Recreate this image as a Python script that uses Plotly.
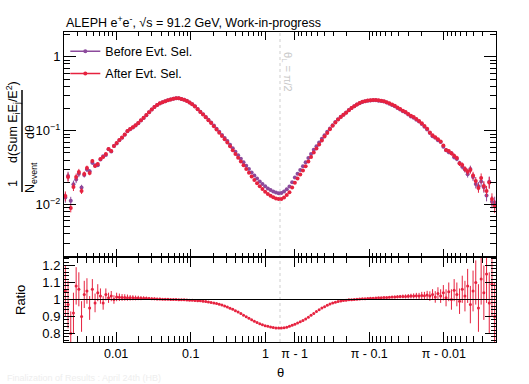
import numpy as np
import plotly.graph_objects as go

# ---------------- data ----------------
N_BINS = 160
THETA_MIN = 0.002

after = [
    0.01309, 0.02365, 0.00901, 0.01732, 0.02365, 0.02764, 0.01529, 0.02597, 0.03131, 0.02679,
    0.03896, 0.03332, 0.03546, 0.04145, 0.04410, 0.04843, 0.05660, 0.05318, 0.06213, 0.06823,
    0.07492, 0.08096, 0.08892, 0.09915, 0.1055, 0.1113, 0.1188, 0.1273, 0.1380, 0.1501,
    0.1633, 0.1781, 0.1938, 0.2095, 0.2229, 0.2343, 0.2425, 0.2510, 0.2589, 0.2646,
    0.2704, 0.2738, 0.2738, 0.2688, 0.2621, 0.2526, 0.2403, 0.2272, 0.2128, 0.1950,
    0.1792, 0.1653, 0.1515, 0.1389, 0.1273, 0.1148, 0.1036, 0.09376, 0.08484, 0.07656,
    0.06929, 0.06138, 0.05452, 0.04843, 0.04302, 0.03823, 0.03406, 0.03025, 0.02688, 0.02395,
    0.02154, 0.01950, 0.01765, 0.01618, 0.01491, 0.01392, 0.01320, 0.01257, 0.01211, 0.01185,
    0.01191, 0.01249, 0.01350, 0.01473, 0.01705, 0.01980, 0.02250, 0.02549, 0.02896, 0.03301,
    0.03823, 0.04396, 0.05058, 0.05731, 0.06510, 0.07376, 0.08326, 0.09317, 0.1042, 0.1162,
    0.1288, 0.1414, 0.1534, 0.1638, 0.1754, 0.1896, 0.2031, 0.2147, 0.2258, 0.2365,
    0.2455, 0.2510, 0.2557, 0.2589, 0.2604, 0.2596, 0.2573, 0.2549, 0.2510, 0.2433,
    0.2350, 0.2264, 0.2168, 0.2062, 0.1968, 0.1866, 0.1792, 0.1684, 0.1592, 0.1534,
    0.1441, 0.1354, 0.1260, 0.1159, 0.1062, 0.09462, 0.08644, 0.08147, 0.07656, 0.07149,
    0.06310, 0.05486, 0.05318, 0.04933, 0.04594, 0.04276, 0.03603, 0.03438, 0.03034, 0.02781,
    0.02941, 0.02479, 0.02088, 0.01679, 0.02293, 0.01787, 0.01529, 0.01993, 0.01192, 0.00958,
]

ratio = [
    1.05, 0.97, 0.80, 0.92, 1.08, 1.06, 0.90, 1.03, 1.05, 0.95,
    1.06, 0.98, 1.04, 1.02, 0.98, 1.03, 1.01, 1.02, 1.00, 1.015,
    1.013, 1.012, 1.012, 1.011, 1.010, 1.010, 1.009, 1.009, 1.008, 1.008,
    1.007, 1.006, 1.005, 1.004, 1.003, 1.003, 1.002, 1.001, 1.001, 1.000,
    1.000, 1.000, 0.999, 0.999, 0.998, 0.997, 0.996, 0.995, 0.994, 0.993,
    0.992, 0.990, 0.988, 0.986, 0.983, 0.980, 0.976, 0.972, 0.967, 0.962,
    0.956, 0.949, 0.942, 0.934, 0.926, 0.917, 0.908, 0.899, 0.890, 0.881,
    0.872, 0.864, 0.857, 0.851, 0.846, 0.842, 0.838, 0.835, 0.833, 0.832,
    0.832, 0.834, 0.837, 0.842, 0.848, 0.855, 0.862, 0.869, 0.877, 0.886,
    0.896, 0.907, 0.918, 0.929, 0.940, 0.950, 0.958, 0.966, 0.973, 0.979,
    0.984, 0.988, 0.991, 0.994, 0.996, 0.998, 0.999, 1.000, 1.002, 1.003,
    1.004, 1.005, 1.006, 1.007, 1.008, 1.009, 1.010, 1.011, 1.012, 1.012,
    1.013, 1.014, 1.015, 1.016, 1.017, 1.018, 1.018, 1.019, 1.020, 1.021,
    1.022, 1.020, 1.024, 1.022, 1.026, 1.020, 1.030, 1.015, 1.035, 1.020,
    1.040, 1.010, 1.045, 1.000, 1.055, 1.030, 0.990, 1.060, 1.020, 1.080,
    0.970, 1.050, 1.100, 0.950, 1.120, 1.040, 1.150, 0.980, 1.090, 0.900,
]

ratio_err = [
    0.15, 0.14, 0.13, 0.12, 0.11, 0.10, 0.09, 0.08, 0.075, 0.07,
    0.06, 0.055, 0.05, 0.045, 0.04, 0.035, 0.03, 0.03, 0.025, 0.025,
    0.022, 0.020, 0.019, 0.018, 0.016, 0.015, 0.014, 0.013, 0.012, 0.011,
    0.010, 0.009, 0.008, 0.008, 0.007, 0.007, 0.006, 0.006, 0.005, 0.005,
    0.004, 0.004, 0.004, 0.004, 0.004, 0.004, 0.004, 0.004, 0.004, 0.004,
    0.004, 0.004, 0.004, 0.004, 0.004, 0.004, 0.004, 0.004, 0.004, 0.004,
    0.004, 0.004, 0.004, 0.004, 0.004, 0.004, 0.004, 0.004, 0.004, 0.004,
    0.004, 0.004, 0.004, 0.004, 0.004, 0.004, 0.004, 0.004, 0.004, 0.004,
    0.004, 0.004, 0.004, 0.004, 0.004, 0.004, 0.004, 0.004, 0.004, 0.004,
    0.004, 0.004, 0.004, 0.004, 0.004, 0.004, 0.004, 0.004, 0.004, 0.004,
    0.004, 0.004, 0.004, 0.004, 0.004, 0.004, 0.004, 0.004, 0.004, 0.004,
    0.004, 0.004, 0.004, 0.004, 0.004, 0.004, 0.004, 0.004, 0.004, 0.004,
    0.006, 0.007, 0.008, 0.009, 0.010, 0.011, 0.012, 0.013, 0.014, 0.015,
    0.017, 0.019, 0.021, 0.023, 0.025, 0.028, 0.031, 0.034, 0.037, 0.040,
    0.045, 0.05, 0.055, 0.06, 0.065, 0.07, 0.075, 0.08, 0.09, 0.10,
    0.11, 0.12, 0.13, 0.14, 0.15, 0.16, 0.17, 0.18, 0.19, 0.20,
]

x_tick_theta = [0.01, 0.1, 1.0, np.pi - 1, np.pi - 0.1, np.pi - 0.01]
x_tick_text = ["0.01", "0.1", "1", "\u03c0 - 1", "\u03c0 - 0.1", "\u03c0 - 0.01"]
y_tick_vals = [0.01, 0.1, 1.0]
y_tick_text = ["10<sup>\u22122</sup>", "10<sup>\u22121</sup>", "1"]
r_tick_vals = [0.8, 0.9, 1.0, 1.1, 1.2]
r_tick_text = ["0.8", "0.9", "1", "1.1", "1.2"]

# ---------------- axis transform (log on both sides of pi/2) ----------------
HALF = np.pi / 2
LH = np.log10(HALF)


def to_axis(theta):
    theta = np.asarray(theta, dtype=float)
    left = np.log10(np.clip(theta, 1e-12, None))
    right = 2 * LH - np.log10(np.clip(np.pi - theta, 1e-12, None))
    return np.where(theta <= HALF, left, right)


u_lo = np.log10(THETA_MIN)
u_hi = 2 * LH - u_lo
edges = np.linspace(u_lo, u_hi, N_BINS + 1)
u_c = 0.5 * (edges[1:] + edges[:-1])
theta_c = np.where(u_c <= LH, 10 ** u_c, np.pi - 10 ** (2 * LH - u_c))
x = to_axis(theta_c)

after_a = np.array(after)
ratio_a = np.array(ratio)
rerr_a = np.array(ratio_err)
before_a = after_a / ratio_a

# minor ticks
minor_theta = []
for n in range(-3, 1):
    for k in range(2, 10):
        v = k * 10.0 ** n
        if THETA_MIN <= v < HALF:
            minor_theta.append(v)
            minor_theta.append(np.pi - v)
x_minor = sorted(to_axis(minor_theta).tolist())
y_minor = [k * 10.0 ** n for n in range(-3, 1) for k in range(2, 10)]

RED = "#e6223f"
PURPLE = "#8c4a9c"
FONT = "Liberation Sans, Arial, Helvetica, sans-serif"

fig = go.Figure()

fig.add_trace(go.Scatter(
    x=x, y=before_a, mode="markers", xaxis="x2", yaxis="y",
    marker=dict(color=PURPLE, size=4),
    error_y=dict(type="data", array=before_a * rerr_a, thickness=1, width=0, color=PURPLE),
    showlegend=False,
))
fig.add_trace(go.Scatter(
    x=x, y=after_a, mode="markers", xaxis="x2", yaxis="y",
    marker=dict(color=RED, size=4),
    error_y=dict(type="data", array=after_a * rerr_a, thickness=1, width=0, color=RED),
    showlegend=False,
))
fig.add_trace(go.Scatter(
    x=x, y=ratio_a, mode="markers", xaxis="x", yaxis="y2",
    marker=dict(color=RED, size=3),
    error_y=dict(type="data", array=rerr_a, thickness=1, width=0, color=RED),
    showlegend=False,
))
# legend entries
for name, col, grp in [("Before Evt. Sel.", PURPLE, "a"), ("After Evt. Sel.", RED, "b")]:
    fig.add_trace(go.Scatter(
        x=[None], y=[None], mode="lines+markers", name=name, legendgroup=grp,
        line=dict(color=col, width=1.5), marker=dict(color=col, size=4),
        xaxis="x2", yaxis="y",
    ))

split = 85 / 310.0
axis_common = dict(showline=True, linecolor="black", linewidth=1, mirror="ticks",
                   ticks="inside", tickcolor="black", showgrid=False, zeroline=False)

fig.update_layout(
    width=529, height=384,
    margin=dict(l=64, r=33, t=32, b=42),
    paper_bgcolor="white", plot_bgcolor="white",
    font=dict(family=FONT, color="black", size=12),
    xaxis=dict(**axis_common, domain=[0, 1], anchor="y2", range=[u_lo, u_hi],
               tickmode="array", tickvals=to_axis(x_tick_theta).tolist(), ticktext=x_tick_text,
               ticklen=10, tickfont=dict(size=12.5),
               minor=dict(tickmode="array", tickvals=x_minor, ticklen=6, ticks="inside", tickcolor="black")),
    xaxis2=dict(**axis_common, domain=[0, 1], anchor="y", matches="x", range=[u_lo, u_hi],
                tickmode="array", tickvals=to_axis(x_tick_theta).tolist(), showticklabels=False,
                ticklen=8,
                minor=dict(tickmode="array", tickvals=x_minor, ticklen=4, ticks="inside", tickcolor="black")),
    yaxis=dict(**axis_common, domain=[split, 1], anchor="x2", type="log", range=[-2.71, 0.336],
               tickmode="array", tickvals=y_tick_vals, ticktext=y_tick_text, ticklen=12,
               tickfont=dict(size=13),
               minor=dict(tickmode="array", tickvals=y_minor, ticklen=6, ticks="inside", tickcolor="black")),
    yaxis2=dict(**axis_common, domain=[0, split], anchor="x", range=[0.75, 1.25],
                tickmode="array", tickvals=r_tick_vals, ticktext=r_tick_text, ticklen=11,
                tickfont=dict(size=13),
                minor=dict(dtick=0.02, tick0=0.8, ticklen=5, ticks="inside", tickcolor="black")),
    legend=dict(x=0.003, y=0.985, xanchor="left", yanchor="top", bgcolor="rgba(0,0,0,0)",
                font=dict(size=12.5), tracegroupgap=3, itemwidth=30),
    showlegend=True,
)

# ratio = 1 line and theta = pi/2 dashed line
fig.add_shape(type="line", xref="x", yref="y2", x0=u_lo, x1=u_hi, y0=1, y1=1,
              line=dict(color="black", width=1))
fig.add_shape(type="line", xref="x", yref="paper", x0=LH, x1=LH, y0=0, y1=1,
              line=dict(color="#cfcfcf", width=1, dash="3px,3px"), layer="below")


def px2paper(px, py):
    return (px - 64) / 432.0, (342 - py) / 310.0


# y-axis title (fraction form)
lx0, ly0 = px2paper(22, 90)
lx1, ly1 = px2paper(22, 192)
fig.add_shape(type="line", xref="paper", yref="paper", x0=lx0, x1=lx1, y0=ly0, y1=ly1,
              line=dict(color="black", width=1.5))

ann = []
for txt, (px, py), ang, size in [
    ("d(Sum E<sub>i</sub>E<sub>j</sub>/E<sup>2</sup>)", (13, 122), -90, 12.5),
    ("d\u03b8", (30, 132), -90, 12.5),
    ("1", (13, 184), -90, 12.5),
    ("N<sub>event</sub>", (31, 178), -90, 12.5),
    ("Ratio", (20, 300), -90, 13),
    ("\u03b8", (280, 372), 0, 13),
]:
    ax_, ay_ = px2paper(px, py)
    ann.append(dict(text=txt, x=ax_, y=ay_, xref="paper", yref="paper", showarrow=False,
                    textangle=ang, xanchor="center", yanchor="middle", font=dict(size=size)))

tx, ty = px2paper(64, 22)
ann.append(dict(text="ALEPH e<sup>+</sup>e<sup>-</sup>, \u221as = 91.2 GeV, Work-in-progress",
                x=tx, y=ty, xref="paper", yref="paper", showarrow=False,
                xanchor="left", yanchor="middle", font=dict(size=12.5)))
lx, ly = px2paper(287, 72)
ann.append(dict(text="\u03b8<sub>L</sub> = \u03c0/2", x=lx, y=ly, xref="paper", yref="paper",
                showarrow=False, textangle=90, xanchor="center", yanchor="middle",
                font=dict(size=11, color="#c8c8c8")))
fx, fy = px2paper(5, 378)
ann.append(dict(text="Finalization of Results : April 24th (HB)", x=fx, y=fy, xref="paper",
                yref="paper", showarrow=False, xanchor="left", yanchor="middle",
                font=dict(size=9, color="#eeeeee")))
fig.update_layout(annotations=ann)

fig.write_html("out.html", config={"displayModeBar": False},
               post_script="document.body.style.margin='0';document.body.style.padding='0';")
